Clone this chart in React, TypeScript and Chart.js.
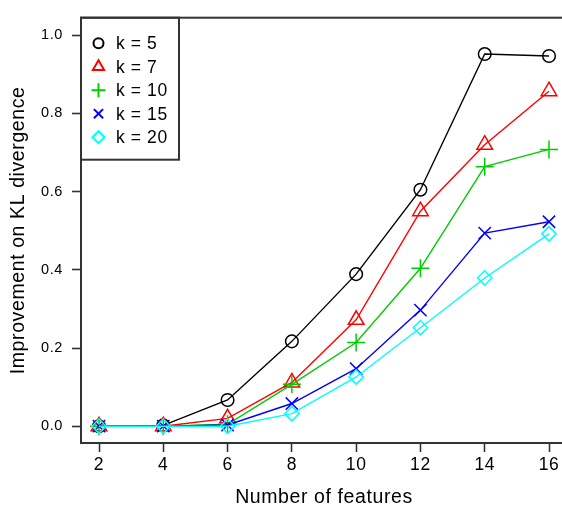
import React, { useEffect, useRef } from 'react';
import { Chart, registerables } from 'chart.js';
import { drawPoint } from 'chart.js/helpers';

Chart.register(...registerables);

const features = [2, 4, 6, 8, 10, 12, 14, 16];
const seriesLabels = ['k = 5', 'k = 7', 'k = 10', 'k = 15', 'k = 20'];
const k5 = [0.0, 0.002, 0.067, 0.217, 0.389, 0.605, 0.952, 0.947];
const k7 = [0.0, 0.0, 0.02, 0.112, 0.272, 0.55, 0.72, 0.857];
const k10 = [0.0, 0.0, 0.005, 0.107, 0.214, 0.404, 0.664, 0.708];
const k15 = [0.0, 0.0, 0.003, 0.058, 0.147, 0.297, 0.494, 0.523];
const k20 = [0.0, 0.0, 0.0, 0.032, 0.126, 0.252, 0.379, 0.492];
const xTicks = [2, 4, 6, 8, 10, 12, 14, 16];
const yTicks = [0, 0.2, 0.4, 0.6, 0.8, 1.0];
const yTickLabels = ['0.0', '0.2', '0.4', '0.6', '0.8', '1.0'];

const colors = ['#000000', '#FF0000', '#00CD00', '#0000FF', '#00FFFF'];
const styles = ['circle', 'triangle', 'cross', 'crossRot', 'rectRot'];
const radii = [6.3, 9, 9, 8.7, 7.2];
const seriesValues = [k5, k7, k10, k15, k20];

const FONT = '"Liberation Sans", Arial, Helvetica, sans-serif';

const boxPlugin = {
  id: 'boxLegend',
  beforeDraw(chart: any) {
    (chart.ctx as any).letterSpacing = '0.6px';
  },
  afterDraw(chart: any) {
    const { ctx, chartArea: a } = chart;
    ctx.save();
    ctx.strokeStyle = '#333';
    ctx.lineWidth = 2;
    ctx.strokeRect(a.left, a.top, a.right - a.left, a.bottom - a.top);
    // legend box
    const lx = a.left;
    const ly = a.top;
    const lw = 98;
    const lh = 142;
    ctx.strokeRect(lx, ly, lw, lh);
    chart.data.datasets.forEach((ds: any, i: number) => {
      const y = ly + 25.5 + i * 23.5;
      ctx.save();
      ctx.strokeStyle = ds.borderColor;
      ctx.fillStyle = 'rgba(0,0,0,0)';
      const r = i === 1 ? 6.5 : i === 2 ? 7 : i === 3 ? 6.5 : i === 4 ? 6 : 5;
      drawPoint(ctx, { pointStyle: ds.pointStyle, radius: r, rotation: 0, borderWidth: 1.6 } as any, lx + 17.5, y);
      ctx.restore();
      ctx.fillStyle = '#000';
      ctx.font = `17.5px ${FONT}`;
      ctx.textBaseline = 'middle';
      ctx.textAlign = 'left';
      ctx.fillText(ds.label, lx + 35, y + 1);
    });
    ctx.restore();
  },
};

export default function App() {
  const ref = useRef<HTMLCanvasElement>(null);
  useEffect(() => {
    if (!ref.current) return;
    const datasets = seriesLabels.map((label, i) => ({
      label,
      data: features.map((x, j) => ({ x, y: seriesValues[i][j] })),
      borderColor: colors[i],
      backgroundColor: 'rgba(0,0,0,0)',
      pointBackgroundColor: 'rgba(0,0,0,0)',
      pointBorderColor: colors[i],
      pointStyle: styles[i],
      pointRadius: radii[i],
      pointBorderWidth: 1.5,
      borderWidth: 1.4,
      tension: 0,
      order: 4 - i,
    }));
    const chart = new Chart(ref.current, {
      type: 'line',
      data: { datasets },
      plugins: [boxPlugin],
      options: {
        responsive: false,
        animation: false,
        layout: { padding: { top: 7, right: 13, left: 0, bottom: 0 } },
        plugins: { legend: { display: false }, tooltip: { enabled: false } },
        scales: {
          x: {
            type: 'linear',
            min: 1.44,
            max: 16.56,
            afterBuildTicks: (s: any) => {
              s.ticks = xTicks.map((v) => ({ value: v }));
            },
            afterFit: (s: any) => {
              s.height = 67;
            },
            grid: { drawOnChartArea: false, drawTicks: true, tickLength: 9, tickColor: '#333', tickWidth: 1.6 },
            border: { display: false },
            ticks: {
              color: '#000',
              font: { family: FONT, size: 17.5 },
              padding: 3,
              maxRotation: 0,
              autoSkip: false,
              callback: (v: any) => String(v),
            },
            title: {
              display: true,
              text: 'Number of features',
              color: '#000',
              font: { family: FONT, size: 19.5 },
              padding: { top: 0, bottom: 1 },
            },
          },
          y: {
            type: 'linear',
            min: -0.043,
            max: 1.045,
            afterBuildTicks: (s: any) => {
              s.ticks = yTicks.map((v) => ({ value: v }));
            },
            afterFit: (s: any) => {
              s.width = 81;
            },
            grid: { drawOnChartArea: false, drawTicks: true, tickLength: 9, tickColor: '#333', tickWidth: 1.6 },
            border: { display: false },
            ticks: {
              color: '#000',
              font: { family: FONT, size: 14.5 },
              padding: 9,
              autoSkip: false,
              callback: (v: any) => {
                const idx = yTicks.findIndex((t) => Math.abs(t - v) < 1e-9);
                return idx >= 0 ? yTickLabels[idx] : '';
              },
            },
            title: {
              display: true,
              text: 'Improvement on KL divergence',
              color: '#000',
              font: { family: FONT, size: 19.5 },
              padding: { top: 7, bottom: 0 },
            },
          },
        },
      },
    });
    return () => chart.destroy();
  }, []);
  return (
    <div style={{ position: 'fixed', left: 0, top: 0, width: 562, height: 510, overflow: 'hidden', background: '#fff' }}>
      <canvas ref={ref} width={580} height={510} style={{ display: 'block', width: 580, height: 510 }} />
    </div>
  );
}
